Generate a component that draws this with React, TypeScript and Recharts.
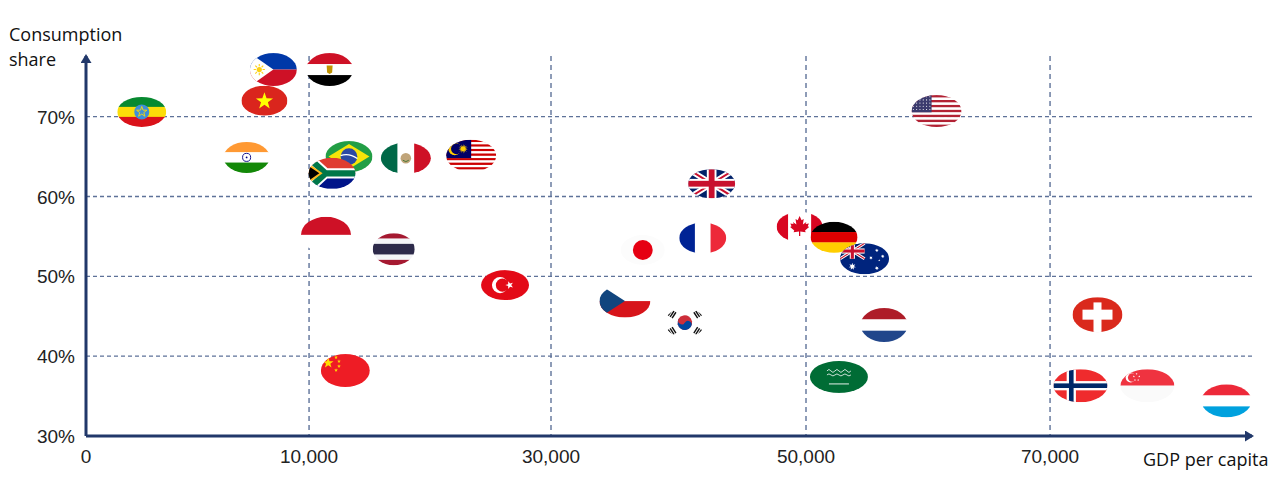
import React from "react"
import { CartesianGrid, Scatter, ScatterChart, XAxis, YAxis } from "recharts"

// drawn in this order so the overlaps come out the same
const countries = [
  "Ethiopia", "Philippines", "Vietnam", "Egypt", "India", "Brazil", "South Africa", "Mexico",
  "Malaysia", "Indonesia", "Thailand", "China", "Turkey", "Japan", "Czech Republic", "France",
  "South Korea", "United Kingdom", "Canada", "Germany", "Australia", "Netherlands",
  "Saudi Arabia", "United States", "Switzerland", "Norway", "Singapore", "Luxembourg",
]
const flagCodes = [
  "ETH", "PHL", "VNM", "EGY", "IND", "BRA", "ZAF", "MEX", "MYS", "IDN", "THA", "CHN", "TUR", "JPN",
  "CZE", "FRA", "KOR", "GBR", "CAN", "DEU", "AUS", "NLD", "SAU", "USA", "CHE", "NOR", "SGP", "LUX",
]
const gdpPerCapita = [
  2500, 8400, 8000, 11700, 7200, 13300, 11900, 18000, 23400, 11400, 17000, 13000, 26200, 37200,
  35800, 41900, 40500, 42600, 49500, 52300, 54800, 56400, 52700, 60700, 73900, 72500, 78000, 84500,
]
const consumptionShare = [
  70.6, 75.9, 72.0, 75.9, 64.9, 65.0, 62.9, 64.8, 65.1, 55.2, 53.4, 38.2, 48.9, 53.3,
  46.9, 54.8, 44.2, 61.6, 56.2, 54.9, 52.2, 43.9, 37.4, 70.7, 45.2, 36.3, 36.3, 34.4,
]

const xTicks = [0, 10000, 30000, 50000, 70000]
const yTicks = [30, 40, 50, 60, 70]

const data = countries.map((name, i) => ({
  name,
  code: flagCodes[i],
  gdp: gdpPerCapita[i],
  share: consumptionShare[i],
}))

const AXIS = "#21386a"
const GRID = "#5e7299"
const TEXT = "#222"

// the original axis is stretched unevenly between its ticks, so the scale is piecewise
const X_KNOTS = [0, 10000, 30000, 50000, 70000, 86600]
const X_STOPS = [0, 0.1913, 0.3988, 0.6175, 0.8268, 1]

function piecewiseScale(dom: number[] = [0, 1], rng: number[] = [0, 1]): any {
  let domain = dom.slice()
  let range = rng.slice()
  const scale: any = (v: number) => {
    let i = 1
    while (i < X_KNOTS.length - 1 && v > X_KNOTS[i]) i++
    const t = (v - X_KNOTS[i - 1]) / (X_KNOTS[i] - X_KNOTS[i - 1])
    const f = X_STOPS[i - 1] + t * (X_STOPS[i] - X_STOPS[i - 1])
    return range[0] + f * (range[1] - range[0])
  }
  scale.domain = (d?: number[]) => {
    if (d === undefined) return domain.slice()
    domain = d.slice()
    return scale
  }
  scale.range = (r?: number[]) => {
    if (r === undefined) return range.slice()
    range = r.slice()
    return scale
  }
  scale.copy = () => piecewiseScale(domain, range)
  scale.ticks = () => X_KNOTS.slice(0, -1)
  scale.tickFormat = () => (v: number) => String(v)
  return scale
}

const FLAG_SIZE: Record<string, [number, number]> = {
  ETH: [49, 30], PHL: [47, 33], EGY: [47, 33], VNM: [46, 30], IND: [46, 31], BRA: [47, 31],
  ZAF: [47, 31], MEX: [50, 31], MYS: [50, 32], GBR: [47, 29], IDN: [50, 36], THA: [42, 32],
  JPN: [44, 30], FRA: [47, 31], CAN: [46, 30], DEU: [47, 31], AUS: [49, 31], TUR: [48, 30],
  CZE: [51, 33], KOR: [40, 29], NLD: [47, 34], CHE: [50, 35], CHN: [49, 33], SAU: [58, 32],
  NOR: [54, 33], SGP: [54, 33], LUX: [50, 33], USA: [50, 32],
}

function star(cx: number, cy: number, r: number, n = 5, inner = 0.4, rot = -90) {
  let d = ""
  for (let i = 0; i < n * 2; i++) {
    const rr = i % 2 ? r * inner : r
    const a = ((rot + (i * 180) / n) * Math.PI) / 180
    d += `${i ? "L" : "M"}${(cx + rr * Math.cos(a)).toFixed(2)},${(cy + rr * Math.sin(a)).toFixed(2)}`
  }
  return d + "Z"
}

function hBands(colors: string[], w: number, h: number, weights?: number[]) {
  const ws = weights ?? colors.map(() => 1)
  const total = ws.reduce((a, b) => a + b, 0)
  let y = -h / 2
  return colors.map((c, i) => {
    const bh = (ws[i] / total) * h
    const el = <rect key={"h" + i} x={-w / 2} y={y} width={w} height={bh + 0.3} fill={c} />
    y += bh
    return el
  })
}

function vBands(colors: string[], w: number, h: number, weights?: number[]) {
  const ws = weights ?? colors.map(() => 1)
  const total = ws.reduce((a, b) => a + b, 0)
  let x = -w / 2
  return colors.map((c, i) => {
    const bw = (ws[i] / total) * w
    const el = <rect key={"v" + i} x={x} y={-h / 2} width={bw + 0.3} height={h} fill={c} />
    x += bw
    return el
  })
}

function stripes(n: number, a: string, b: string, w: number, h: number) {
  return Array.from({ length: n }, (_, i) => (
    <rect key={"s" + i} x={-w / 2} y={-h / 2 + (i * h) / n} width={w} height={h / n + 0.2} fill={i % 2 ? b : a} />
  ))
}

function unionJack(x: number, y: number, w: number, h: number) {
  const diag = `M${x},${y}L${x + w},${y + h}M${x + w},${y}L${x},${y + h}`
  return (
    <g>
      <rect x={x} y={y} width={w} height={h} fill="#012169" />
      <path d={diag} stroke="#fff" strokeWidth={h * 0.2} />
      <path d={diag} stroke="#c8102e" strokeWidth={h * 0.07} />
      <rect x={x} y={y + h / 2 - h / 6} width={w} height={h / 3} fill="#fff" />
      <rect x={x + w / 2 - h / 6} y={y} width={h / 3} height={h} fill="#fff" />
      <rect x={x} y={y + h / 2 - h / 10} width={w} height={h / 5} fill="#c8102e" />
      <rect x={x + w / 2 - h / 10} y={y} width={h / 5} height={h} fill="#c8102e" />
    </g>
  )
}

const MAPLE = [
  [0, -1], [0.18, -0.62], [0.38, -0.72], [0.3, -0.22], [0.62, -0.45], [0.56, -0.27], [0.86, -0.3],
  [0.75, -0.05], [0.88, 0.02], [0.5, 0.33], [0.56, 0.5], [0.06, 0.43], [0.06, 0.85], [-0.06, 0.85],
  [-0.06, 0.43], [-0.56, 0.5], [-0.5, 0.33], [-0.88, 0.02], [-0.75, -0.05], [-0.86, -0.3],
  [-0.56, -0.27], [-0.62, -0.45], [-0.3, -0.22], [-0.38, -0.72], [-0.18, -0.62],
]

function trigram(x: number, y: number, angle: number) {
  return (
    <g transform={`translate(${x},${y}) rotate(${angle})`}>
      <rect x={-3.5} y={-3} width={7} height={1.4} fill="#111" />
      <rect x={-3.5} y={-0.7} width={7} height={1.4} fill="#111" />
      <rect x={-3.5} y={1.6} width={7} height={1.4} fill="#111" />
    </g>
  )
}

function flagArt(code: string, w: number, h: number): React.ReactNode {
  const L = -w / 2
  const T = -h / 2
  switch (code) {
    case "ETH":
      return (
        <>
          {hBands(["#078930", "#fcdd09", "#da121a"], w, h)}
          <circle r={h * 0.25} fill="#3f8fd8" />
          <path d={star(0, 0, h * 0.18)} fill="none" stroke="#fcdd09" strokeWidth={0.9} />
        </>
      )
    case "PHL":
      return (
        <>
          <rect x={L} y={T} width={w} height={h / 2} fill="#0038a8" />
          <rect x={L} y={0} width={w} height={h / 2} fill="#ce1126" />
          <path d={`M${L},${T}L${L + w * 0.5},0L${L},${-T}Z`} fill="#fff" />
          <circle cx={L + w * 0.2} cy={0} r={2.6} fill="#fcd116" />
          {Array.from({ length: 8 }, (_, i) => {
            const a = (i * Math.PI) / 4
            return (
              <line key={i} x1={L + w * 0.2 + 3.3 * Math.cos(a)} y1={3.3 * Math.sin(a)}
                x2={L + w * 0.2 + 5.6 * Math.cos(a)} y2={5.6 * Math.sin(a)} stroke="#fcd116" strokeWidth={1.1} />
            )
          })}
        </>
      )
    case "EGY":
      return (
        <>
          {hBands(["#ce1126", "#ffffff", "#000000"], w, h)}
          <path d="M-3,-4 L3,-4 L2.5,3 L0,4.5 L-2.5,3 Z" fill="#c09300" />
        </>
      )
    case "VNM":
      return (
        <>
          <rect x={L} y={T} width={w} height={h} fill="#da251d" />
          <path d={star(0, 0.5, h * 0.3)} fill="#ffff00" />
        </>
      )
    case "IND":
      return (
        <>
          {hBands(["#ff9933", "#ffffff", "#138808"], w, h)}
          <circle r={h * 0.13} fill="none" stroke="#000080" strokeWidth={0.9} />
          <circle r={0.9} fill="#000080" />
        </>
      )
    case "BRA":
      return (
        <>
          <rect x={L} y={T} width={w} height={h} fill="#229e45" />
          <path d={`M${L + 3},0L0,${T + 3}L${-L - 3},0L0,${-T - 3}Z`} fill="#f8e509" />
          <circle r={h * 0.27} fill="#2b49a3" />
          <path d={`M${-h * 0.27},-1 Q0,-4 ${h * 0.27},2`} fill="none" stroke="#fff" strokeWidth={1.2} />
        </>
      )
    case "ZAF":
      return (
        <>
          <rect x={L} y={T} width={w} height={h / 2} fill="#e03c31" />
          <rect x={L} y={0} width={w} height={h / 2} fill="#001489" />
          <path d={`M${L},${T}L${L + w * 0.36},0L${-L},0M${L},${-T}L${L + w * 0.36},0`} fill="none" stroke="#fff" strokeWidth={h * 0.33} />
          <path d={`M${L},${T}L${L + w * 0.36},0L${-L},0M${L},${-T}L${L + w * 0.36},0`} fill="none" stroke="#007749" strokeWidth={h * 0.2} />
          <path d={`M${L},${T + h * 0.18}L${L + w * 0.3},0L${L},${-T - h * 0.18}Z`} fill="#ffb81c" />
          <path d={`M${L},${T + h * 0.26}L${L + w * 0.23},0L${L},${-T - h * 0.26}Z`} fill="#000" />
        </>
      )
    case "MEX":
      return (
        <>
          {vBands(["#006847", "#ffffff", "#ce1126"], w, h)}
          <circle r={h * 0.17} fill="#b08d57" opacity={0.8} />
          <path d="M-3,2 Q0,5 3,2" fill="none" stroke="#4a7a3a" strokeWidth={1} />
        </>
      )
    case "MYS":
      return (
        <>
          {stripes(14, "#cc0001", "#ffffff", w, h)}
          <rect x={L} y={T} width={w * 0.5} height={(h * 8) / 14} fill="#010066" />
          <circle cx={L + w * 0.17} cy={T + h * 0.28} r={h * 0.2} fill="#fc0" />
          <circle cx={L + w * 0.17 + 1.8} cy={T + h * 0.28} r={h * 0.17} fill="#010066" />
          <path d={star(L + w * 0.34, T + h * 0.28, h * 0.15, 14, 0.45)} fill="#fc0" />
        </>
      )
    case "GBR":
      return unionJack(L, T, w, h)
    case "IDN":
      return hBands(["#ce1126", "#ffffff"], w, h)
    case "THA":
      return hBands(["#a51931", "#f4f5f8", "#2d2a4a", "#f4f5f8", "#a51931"], w, h, [1, 1, 2, 1, 1])
    case "CHN":
      return (
        <>
          <rect x={L} y={T} width={w} height={h} fill="#ee1c25" />
          <path d={star(L + w * 0.15, T + h * 0.27, h * 0.17)} fill="#ffde00" />
          <path d={star(L + w * 0.31, T + h * 0.1, h * 0.06)} fill="#ffde00" />
          <path d={star(L + w * 0.37, T + h * 0.22, h * 0.06)} fill="#ffde00" />
          <path d={star(L + w * 0.37, T + h * 0.37, h * 0.06)} fill="#ffde00" />
          <path d={star(L + w * 0.31, T + h * 0.49, h * 0.06)} fill="#ffde00" />
        </>
      )
    case "TUR":
      return (
        <>
          <rect x={L} y={T} width={w} height={h} fill="#e30a17" />
          <circle cx={-5} cy={0} r={h * 0.27} fill="#fff" />
          <circle cx={-2.6} cy={0} r={h * 0.22} fill="#e30a17" />
          <path d={star(4.5, 0, h * 0.14, 5, 0.4, 180)} fill="#fff" />
        </>
      )
    case "JPN":
      return (
        <>
          <rect x={L} y={T} width={w} height={h} fill="#fcfcfc" />
          <circle r={h * 0.33} fill="#e60012" />
        </>
      )
    case "CZE":
      return (
        <>
          <rect x={L} y={T} width={w} height={h / 2} fill="#ffffff" />
          <rect x={L} y={0} width={w} height={h / 2} fill="#d7141a" />
          <path d={`M${L},${T}L${L + w * 0.5},0L${L},${-T}Z`} fill="#11457e" />
        </>
      )
    case "FRA":
      return vBands(["#002395", "#ffffff", "#ed2939"], w, h)
    case "KOR": {
      const r = h * 0.25
      return (
        <>
          <rect x={L} y={T} width={w} height={h} fill="#ffffff" />
          <g transform="rotate(33)">
            <circle r={r} fill="#cd2e3a" />
            <path d={`M${-r},0 A${r},${r} 0 0 0 ${r},0 Z`} fill="#0047a0" />
            <circle cx={-r / 2} r={r / 2} fill="#cd2e3a" />
            <circle cx={r / 2} r={r / 2} fill="#0047a0" />
          </g>
          {trigram(L + w * 0.18, T + h * 0.2, -57)}
          {trigram(-L - w * 0.18, T + h * 0.2, 57)}
          {trigram(L + w * 0.18, -T - h * 0.2, 57)}
          {trigram(-L - w * 0.18, -T - h * 0.2, -57)}
        </>
      )
    }
    case "CAN":
      return (
        <>
          {vBands(["#d80621", "#ffffff", "#d80621"], w, h, [1, 2, 1])}
          <path d={"M" + MAPLE.map(([px, py]) => `${(px * h * 0.36).toFixed(2)},${(py * h * 0.36).toFixed(2)}`).join("L") + "Z"} fill="#d80621" />
        </>
      )
    case "DEU":
      return hBands(["#000000", "#dd0000", "#ffce00"], w, h)
    case "AUS":
      return (
        <>
          <rect x={L} y={T} width={w} height={h} fill="#00247d" />
          {unionJack(L, T, w / 2, h / 2)}
          <path d={star(L + w / 4, h / 4, h * 0.12, 7, 0.45)} fill="#fff" />
          <path d={star(w * 0.25, -h * 0.27, 1.9, 7, 0.45)} fill="#fff" />
          <path d={star(w * 0.37, -h * 0.08, 1.9, 7, 0.45)} fill="#fff" />
          <path d={star(w * 0.13, -h * 0.03, 1.9, 7, 0.45)} fill="#fff" />
          <path d={star(w * 0.25, h * 0.3, 2.1, 7, 0.45)} fill="#fff" />
          <path d={star(w * 0.3, h * 0.05, 1.1, 5, 0.45)} fill="#fff" />
        </>
      )
    case "NLD":
      return hBands(["#ae1c28", "#ffffff", "#21468b"], w, h)
    case "SAU":
      return (
        <>
          <rect x={L} y={T} width={w} height={h} fill="#006c35" />
          <path d="M-12,-6 q2,-3 4,0 t4,0 t4,0 t4,0 t4,0 t4,0 M-12,-2 q2,-2 4,0 t4,0 t4,0 t4,0 t4,0 t4,0"
            fill="none" stroke="#fff" strokeWidth={0.8} />
          <line x1={-10} y1={7} x2={10} y2={7} stroke="#fff" strokeWidth={0.9} />
        </>
      )
    case "USA":
      return (
        <>
          {stripes(13, "#b22234", "#ffffff", w, h)}
          <rect x={L} y={T} width={w * 0.4} height={(h * 7) / 13} fill="#3c3b6e" />
          {Array.from({ length: 30 }, (_, i) => (
            <circle key={"st" + i} cx={L + 1.8 + (i % 6) * 3.3} cy={T + 1.6 + Math.floor(i / 6) * 3.2} r={0.55} fill="#fff" />
          ))}
        </>
      )
    case "CHE":
      return (
        <>
          <rect x={L} y={T} width={w} height={h} fill="#da291c" />
          <rect x={-4} y={T + h * 0.15} width={8} height={h} fill="#fff" />
          <rect x={-15} y={-5} width={30} height={10} fill="#fff" />
        </>
      )
    case "NOR": {
      const vx = -w * 0.17
      return (
        <>
          <rect x={L} y={T} width={w} height={h} fill="#ef2b2d" />
          <rect x={vx - h * 0.14} y={T} width={h * 0.28} height={h} fill="#fff" />
          <rect x={L} y={-h * 0.14} width={w} height={h * 0.28} fill="#fff" />
          <rect x={vx - h * 0.07} y={T} width={h * 0.14} height={h} fill="#002868" />
          <rect x={L} y={-h * 0.07} width={w} height={h * 0.14} fill="#002868" />
        </>
      )
    }
    case "SGP":
      return (
        <>
          <rect x={L} y={T} width={w} height={h / 2} fill="#ef3340" />
          <rect x={L} y={0} width={w} height={h / 2} fill="#fafafa" />
          <circle cx={L + w * 0.19} cy={T + h * 0.25} r={h * 0.15} fill="#fff" />
          <circle cx={L + w * 0.19 + 1.6} cy={T + h * 0.25} r={h * 0.13} fill="#ef3340" />
          {[[0.3, 0.14], [0.35, 0.22], [0.33, 0.33], [0.27, 0.33], [0.25, 0.22]].map(([fx, fy], i) => (
            <path key={"sg" + i} d={star(L + w * fx, T + h * fy, 1.1)} fill="#fff" />
          ))}
        </>
      )
    case "LUX":
      return hBands(["#ed2939", "#ffffff", "#00a1de"], w, h)
    default:
      return <rect x={L} y={T} width={w} height={h} fill="#ccc" />
  }
}

function Flag(props: any) {
  const { cx, cy, payload } = props
  if (cx == null || cy == null || !payload) return null
  const code: string = payload.code
  const [w, h] = FLAG_SIZE[code] ?? [48, 31]
  const id = `flag-clip-${code}`
  return (
    <g transform={`translate(${cx},${cy})`}>
      <defs>
        <clipPath id={id}>
          <ellipse rx={w / 2} ry={h / 2} />
        </clipPath>
      </defs>
      <g clipPath={`url(#${id})`}>{flagArt(code, w, h)}</g>
    </g>
  )
}

const XTick = ({ x, y, payload }: any) => (
  <text x={x} y={y + 27} textAnchor="middle" fill={TEXT} fontSize={19}
    fontFamily="'Liberation Sans', Arial, sans-serif">
    {Number(payload.value).toLocaleString("en-US")}
  </text>
)

const YTick = ({ x, y, payload }: any) => (
  <text x={x} y={y + 7} textAnchor="end" fill={TEXT} fontSize={19}
    fontFamily="'Liberation Sans', Arial, sans-serif">
    {`${payload.value}%`}
  </text>
)

const labelStyle: React.CSSProperties = {
  position: "absolute",
  fontFamily: "'Open Sans', sans-serif",
  fontSize: 18,
  lineHeight: "25px",
  color: "#111",
  whiteSpace: "nowrap",
}

export default function App() {
  return (
    <div style={{ position: "absolute", left: 0, top: 0, width: 1280, height: 491, background: "#fff" }}>
      <ScatterChart width={1280} height={491} margin={{ top: 56, right: 28, bottom: 0, left: 0 }}>
        <defs>
          <marker id="arrow-axis" viewBox="0 0 9 11" refX={7} refY={5.5} markerWidth={9} markerHeight={11}
            markerUnits="userSpaceOnUse" orient="auto-start-reverse">
            <path d="M0,0 L9,5.5 L0,11 Z" fill={AXIS} />
          </marker>
        </defs>
        <CartesianGrid horizontal={false} syncWithTicks stroke={GRID} strokeWidth={1.4} strokeDasharray="5 4" />
        <CartesianGrid vertical={false} syncWithTicks stroke={GRID} strokeWidth={1.4} strokeDasharray="4 3" />
        <XAxis
          type="number"
          dataKey="gdp"
          scale={piecewiseScale()}
          domain={[0, 86600]}
          ticks={xTicks}
          interval={0}
          height={55}
          tickSize={0}
          tickMargin={0}
          tickLine={false}
          tick={<XTick />}
          axisLine={{ stroke: AXIS, strokeWidth: 3, markerEnd: "url(#arrow-axis)" }}
        />
        <YAxis
          type="number"
          dataKey="share"
          domain={[30, 77.6]}
          ticks={yTicks}
          interval={0}
          width={86}
          tickSize={0}
          tickMargin={11}
          tickLine={false}
          tick={<YTick />}
          axisLine={{ stroke: AXIS, strokeWidth: 3, markerStart: "url(#arrow-axis)" }}
        />
        <Scatter data={data} shape={<Flag />} isAnimationActive={false} />
      </ScatterChart>
      <div style={{ ...labelStyle, left: 9, top: 22 }}>
        Consumption
        <br />
        share
      </div>
      <div style={{ ...labelStyle, left: 1143, top: 447 }}>GDP per capita</div>
    </div>
  )
}
